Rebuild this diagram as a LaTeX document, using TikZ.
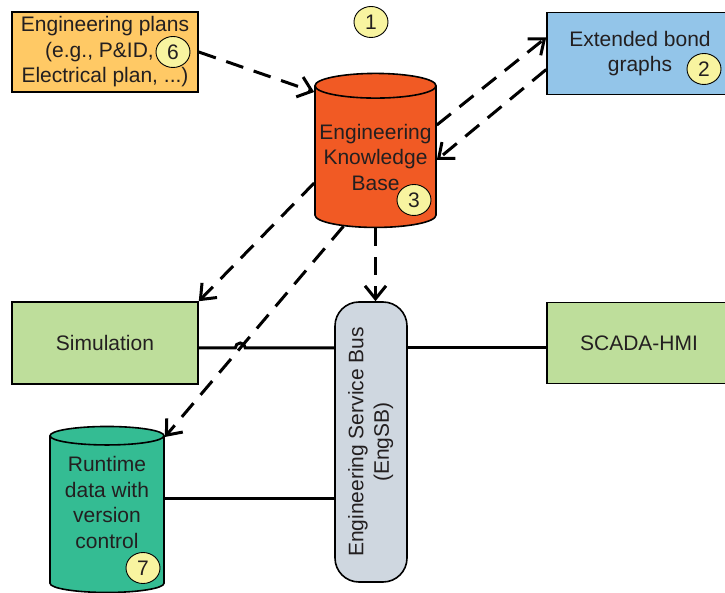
\documentclass[tikz,border=0pt]{standalone}
\usepackage{fontspec}
\setmainfont{Liberation Sans}
\usepackage{graphicx}
\usetikzlibrary{arrows.meta, shapes.geometric, positioning, calc}
\definecolor{planorange}{HTML}{FFC965}
\definecolor{bondblue}{HTML}{93C5E9}
\definecolor{kbred}{HTML}{F15A24}
\definecolor{toolgreen}{HTML}{BEDE9B}
\definecolor{busgrey}{HTML}{CFD7E0}
\definecolor{rtgreen}{HTML}{34BC93}
\definecolor{badgeyellow}{HTML}{F8F4A0}
\definecolor{inkgrey}{HTML}{231F20}
\newcommand{\lbl}{\fontsize{21}{25.5}\selectfont}

\tikzset{
  block/.style={draw=black, line width=1.6pt, inner sep=0pt, align=center, text=inkgrey, font=\lbl},
  store/.style={cylinder, shape border rotate=90, aspect=0.22, draw=black, line width=1.6pt,
    cylinder uses custom fill, inner sep=0pt, align=center, text=inkgrey, font=\lbl},
  badge/.style={ellipse, draw=black, line width=0.9pt, fill=badgeyellow, minimum width=34pt,
    minimum height=31pt, inner sep=0pt, text=inkgrey, font=\lbl},
  flow/.style={line width=3pt, dash pattern=on 18pt off 11pt, -{Straight Barb[length=13pt,width=21pt]}},
  wire/.style={line width=3pt}
}

\begin{document}
\begin{tikzpicture}[x=1pt, y=1pt]
  \useasboundingbox (0,0) rectangle (725,592);

  % sources
  \node[block, fill=planorange, minimum width=186pt, minimum height=80pt] (plans) at (105,540)
    {Engineering plans\\(e.g., P\&ID,\rule{11pt}{0pt}\\Electrical plan, ...)};
  \node[block, fill=bondblue, minimum width=186pt, minimum height=82pt] (bond) at (640,538.5)
    {Extended bond\\graphs};

  % knowledge base
  \node[store, cylinder body fill=kbred, cylinder end fill=kbred, minimum width=121pt, minimum height=154pt] (kb) at (375.5,435)
    {Engineering\\Knowledge\\Base};

  % tools on the bus
  \node[block, fill=toolgreen, minimum width=186pt, minimum height=82pt] (sim) at (105,249) {Simulation};
  \node[block, fill=toolgreen, minimum width=184pt, minimum height=81pt] (scada) at (639,249) {SCADA-HMI};
  \node[block, fill=busgrey, rounded corners=24pt, minimum width=72pt, minimum height=280pt] (bus) at (371,150)
    {\rotatebox{90}{\begin{tabular}{@{}c@{}}Engineering Service Bus\\(EngSB)\end{tabular}}};
  \node[store, cylinder body fill=rtgreen, cylinder end fill=rtgreen, minimum width=114pt, minimum height=166pt] (rt) at (107,77.5)
    {Runtime\\data with\\version\\control\rule[-24pt]{0pt}{24pt}};

  % numbered badges
  \node[badge] (n1) at (371,570) {1};
  \node[badge] (n2) at (704,523) {2};
  \node[badge] (n3) at (414,392) {3};
  \node[badge] (n6) at (173,540) {6};
  \node[badge] (n7) at (143,24) {7};

  % helper points
  \coordinate (kbout) at ([xshift=-32pt,yshift=2pt]kb.south);
  \coordinate (rtin) at ([yshift=77.5pt]rt.east);
  \coordinate (simout) at ([yshift=-5pt]sim.east);
  \coordinate (busin) at (simout -| bus.west);
  \coordinate (hop) at (intersection of kbout--rtin and simout--busin);

  % model exchange
  \draw[flow] (plans.east) -- ([yshift=65pt]kb.west);
  \draw[flow] ([yshift=32pt]kb.east) -- ([yshift=16pt]bond.west);
  \draw[flow] ([yshift=-16pt]bond.west) -- ([yshift=-3pt]kb.east);
  \draw[flow] ([yshift=-26pt]kb.west) -- (sim.north east);
  \draw[flow] (kbout) -- (rtin);
  \draw[flow] (kb.south) -- (kb.south |- bus.north);

  % bus links
  \draw[wire] (simout) -- ([xshift=-5pt]hop) arc[start angle=180, end angle=0, radius=5pt] -- (busin);
  \draw[wire] (busin -| bus.east) -- (busin -| scada.west);
  \draw[wire] ([yshift=15.5pt]rt.east) -- ([yshift=15.5pt]rt.east -| bus.west);
\end{tikzpicture}
\end{document}
